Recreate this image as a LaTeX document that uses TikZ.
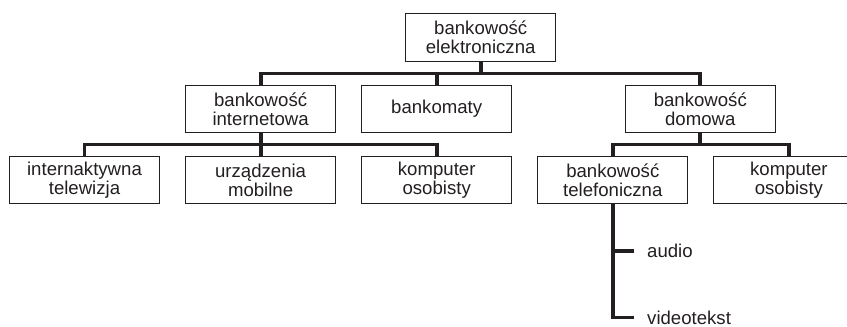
\documentclass[tikz,border=0pt]{standalone}
\usepackage{fontspec}
\setmainfont{Liberation Sans}
\usetikzlibrary{positioning,calc}
\definecolor{ink}{RGB}{35,31,32}
\tikzset{
    box/.style = {draw=ink, rectangle, line width=1.1pt,
        minimum height=47pt, minimum width=150pt,
        text centered, text width=146pt, inner sep=0pt},
    bus/.style = {draw=ink, line width=3.8pt, line join=miter},
    leaf/.style = {inner sep=0pt, anchor=west},
}
\begin{document}
\begin{tikzpicture}[x=1pt, y=-1pt, node distance=23pt and 25pt,
    font=\fontsize{18.6}{19}\selectfont, text=ink]
	\useasboundingbox (0,0) rectangle (847,327);
	
	% bottom row
	\node (tv) [box] at (84.5,180) {internaktywna\\telewizja};
	\node (mobile) [box, right=of tv] {urządzenia\\mobilne};
	\node (pcA) [box, right=of mobile] {komputer\\osobisty};
	\node (phone) [box, right=of pcA] {bankowość\\telefoniczna};
	\node (pcB) [box, right=of phone] {komputer\\osobisty};
	
	% middle row
	\node (internet) [box, above=of mobile] {bankowość\\internetowa};
	\node (atm) [box, above=of pcA] {bankomaty};
	\node (home) [box, above=of phone, xshift=87.5pt] {bankowość\\domowa};
	
	% top
	\node (root) [box, above=of atm, xshift=44pt, minimum height=48pt] {bankowość\\elektroniczna};
	
	% leaves of telephone banking
	\node (audio) [leaf] at (647,251) {audio};
	\node (video) [leaf] at (647,317.5) {videotekst};
	
	% bus levels
	\coordinate (busTop) at (0,73.5);
	\coordinate (busNet) at (0,144.5);
	\coordinate (busHome) at (0,144.5);
	
	%% edges
	\draw [bus] (internet.north) |- (home.north |- busTop) -- (home.north);
	\draw [bus] (root.south) -- (root.south |- busTop);
	\draw [bus] (atm.north) -- (atm.north |- busTop);
	
	\draw [bus] (tv.north) |- (pcA.north |- busNet) -- (pcA.north);
	\draw [bus] (internet.south) -- (internet.south |- busNet);
	\draw [bus] (mobile.north) -- (mobile.north |- busNet);
	
	\draw [bus] (phone.north) |- (pcB.north |- busHome) -- (pcB.north);
	\draw [bus] (home.south) -- (home.south |- busHome);
	
	\draw [bus] (phone.south) |- ([xshift=-13pt] video.west);
	\draw [bus] (phone.south |- audio) -- ([xshift=-13pt] audio.west);
	
\end{tikzpicture}
\end{document}
